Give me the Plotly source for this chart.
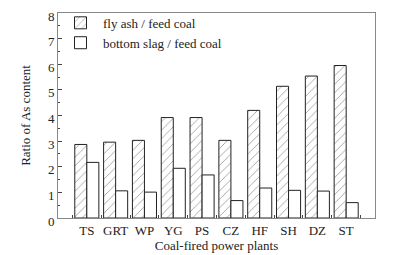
import plotly.graph_objects as go

plants = ["TS", "GRT", "WP", "YG", "PS", "CZ", "HF", "SH", "DZ", "ST"]
fly_ash = [2.87, 2.96, 3.03, 3.92, 3.92, 3.03, 4.20, 5.14, 5.54, 5.95]
bottom_slag = [2.17, 1.06, 1.01, 1.94, 1.68, 0.68, 1.17, 1.08, 1.05, 0.60]
y_ticks = [0, 1, 2, 3, 4, 5, 6, 7, 8]

FONT = "Liberation Serif"
fig = go.Figure()
fig.add_trace(go.Bar(
    x=plants, y=fly_ash, name="fly ash / feed coal",
    marker=dict(color="white", line=dict(color="#222", width=1),
                pattern=dict(shape="/", fgcolor="#444", bgcolor="white", size=6, solidity=0.15)),
))
fig.add_trace(go.Bar(
    x=plants, y=bottom_slag, name="bottom slag / feed coal",
    marker=dict(color="white", line=dict(color="#222", width=1)),
))
fig.update_layout(
    width=394, height=247,
    margin=dict(l=50, r=27, t=5, b=37, autoexpand=False),
    paper_bgcolor="white", plot_bgcolor="white",
    barmode="group", bargap=0.165, bargroupgap=0,
    font=dict(family=FONT, size=13, color="#222"),
    showlegend=True,
    legend=dict(x=0.0, y=1.025, xanchor="left", yanchor="top",
                bgcolor="rgba(0,0,0,0)", font=dict(family=FONT, size=13),
                tracegroupgap=0, itemwidth=35),
)
fig.update_xaxes(
    type="category", range=[-1, 10], tickangle=0,
    showline=True, mirror=True, linecolor="#888", linewidth=1,
    ticks="inside", tickson="boundaries", ticklen=3, tickcolor="#444",
    showgrid=False,
    title=dict(text="Coal-fired power plants", standoff=4, font=dict(size=13)),
    tickfont=dict(size=13),
)
fig.update_yaxes(
    range=[0, 8], tickvals=y_ticks, ticklabeloverflow="allow", ticklabelshift=3,
    showline=True, mirror=True, linecolor="#888", linewidth=1,
    ticks="inside", ticklen=4, tickcolor="#444",
    minor=dict(dtick=0.5, ticks="inside", ticklen=2, tickcolor="#444"),
    showgrid=False, zeroline=False,
    title=dict(text="Ratio of As content", standoff=14, font=dict(size=13)),
    tickfont=dict(size=13),
)
fig.write_html("out.html")
